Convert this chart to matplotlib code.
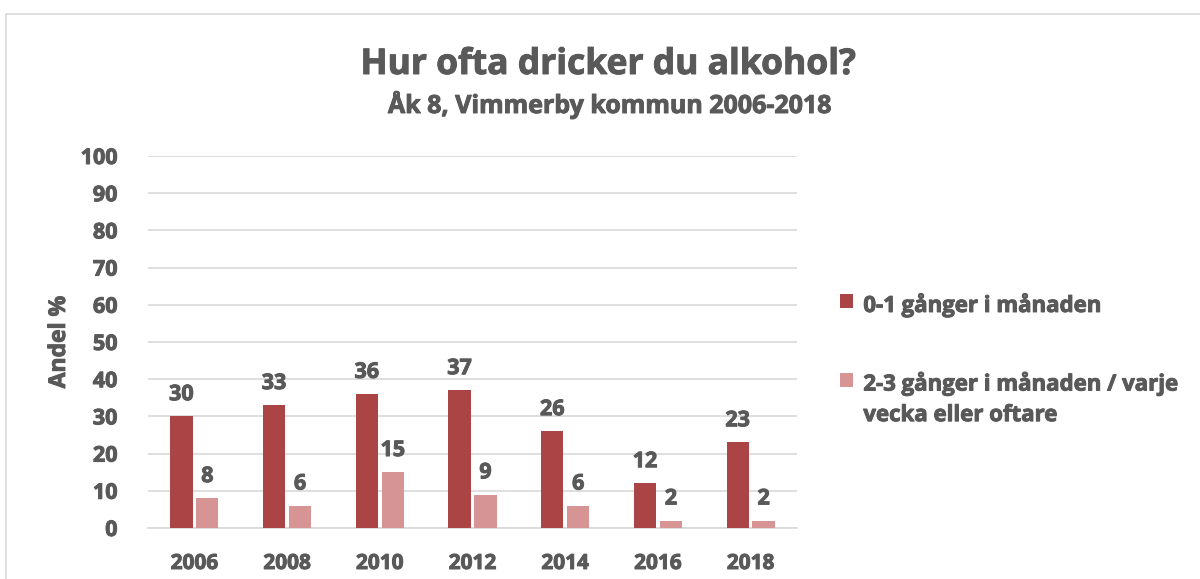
import matplotlib
matplotlib.use("Agg")
import matplotlib.pyplot as plt
import matplotlib.patches as mpatches
import matplotlib.patheffects as pe
import numpy as np

years = ["2006", "2008", "2010", "2012", "2014", "2016", "2018"]
series1 = [30, 33, 36, 37, 26, 12, 23]
series2 = [8, 6, 15, 9, 6, 2, 2]
labels = ["0-1 gånger i månaden", "2-3 gånger i månaden / varje\nvecka eller oftare"]
yticks = [0, 10, 20, 30, 40, 50, 60, 70, 80, 90, 100]

c1 = "#AB4545"
c2 = "#D69494"
tc = "#595959"
thick = [pe.withStroke(linewidth=0.7, foreground=tc)]

plt.rcParams['font.family'] = ['Open Sans', 'DejaVu Sans']

fig = plt.figure(figsize=(12, 5.79), dpi=100)
ax = fig.add_axes([148/1200, 1-528/579, (797-148)/1200, (528-156)/579])

x = np.arange(len(years))
w = 0.24
gap = 0.04
off = (w + gap) / 2
b1 = ax.bar(x - off, series1, w, color=c1, label=labels[0], zorder=3)
b2 = ax.bar(x + off, series2, w, color=c2, label=labels[1], zorder=3)

for rect, v in zip(b1, series1):
    ax.text(rect.get_x() + rect.get_width()/2, v + 3.0, str(v), ha='center', va='bottom',
            fontsize=15.5, fontweight='bold', color=tc, path_effects=thick)
for rect, v in zip(b2, series2):
    ax.text(rect.get_x() + rect.get_width()/2, v + 3.0, str(v), ha='center', va='bottom',
            fontsize=15.5, fontweight='bold', color=tc, path_effects=thick)

ax.set_xlim(-0.5, len(years) - 0.5)
ax.set_ylim(0, 100)
ax.set_yticks(yticks)
ax.set_xticks(x)
ax.set_xticklabels(years)
ax.tick_params(axis='y', length=0, labelsize=15.5, colors=tc, pad=22)
ax.tick_params(axis='x', length=0, labelsize=15, colors=tc, pad=18)
for lab in ax.get_xticklabels() + ax.get_yticklabels():
    lab.set_fontweight('bold')
    lab.set_path_effects(thick)
ax.yaxis.grid(True, color="#D9D9D9", linewidth=1.2, zorder=0)
for s in ['top', 'right', 'left']:
    ax.spines[s].set_visible(False)
ax.spines['bottom'].set_color("#D9D9D9")
ax.spines['bottom'].set_linewidth(1.2)
ax.set_ylabel("Andel %", fontsize=16.5, fontweight='bold', color=tc, labelpad=7,
              path_effects=thick)

fig.text(608/1200, 1-65/579, "Hur ofta dricker du alkohol?", ha='center', va='center',
         fontsize=25.5, fontweight='bold', color=tc, path_effects=thick)
fig.text(610/1200, 1-105/579, "Åk 8, Vimmerby kommun 2006-2018", ha='center', va='center',
         fontsize=18, fontweight='bold', color=tc, path_effects=thick)

leg = fig.legend(handles=[b1, b2], labels=labels, loc='upper left',
                 bbox_to_anchor=(820/1200, 1-274/579), frameon=False,
                 fontsize=16, handlelength=0.6, handleheight=0.6, handletextpad=0.45,
                 labelspacing=2.5, alignment='left')
for t in leg.get_texts():
    t.set_color(tc)
    t.set_fontweight('bold')
    t.set_linespacing(1.6)
    t.set_path_effects(thick)
for col in leg._legend_handle_box.get_children():
    for item in col.get_children():
        item.align = "top"

frame = mpatches.Rectangle((6/1200, -0.1), 1.1, 1-14/579 + 0.1, transform=fig.transFigure,
                           fill=False, edgecolor="#D9D9D9", linewidth=1.2, clip_on=False)
fig.patches.append(frame)

fig.savefig("out.png", dpi=100)
